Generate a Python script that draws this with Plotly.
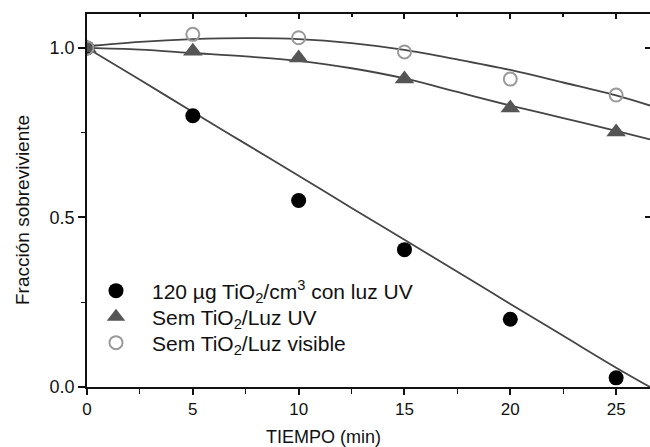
import plotly.graph_objects as go

tiempo = [0, 5, 10, 15, 20, 25]
uv_tio2 = [1.0, 0.80, 0.55, 0.405, 0.20, 0.027]
uv_sin = [1.0, 0.99, 0.97, 0.908, 0.823, 0.752]
vis_sin = [1.0, 1.04, 1.03, 0.988, 0.908, 0.861]

fit_x = [0, 2.5, 5, 7.5, 10, 12.5, 15, 17.5, 20, 22.5, 25, 26.6]
fit_uv_tio2 = [1.0, 0.906, 0.811, 0.717, 0.623, 0.528, 0.434, 0.340, 0.245, 0.151, 0.057, 0.0]
fit_uv_sin = [1.0, 0.995, 0.985, 0.975, 0.962, 0.940, 0.910, 0.870, 0.830, 0.793, 0.755, 0.73]
fit_vis_sin = [1.005, 1.018, 1.026, 1.029, 1.026, 1.014, 0.994, 0.966, 0.935, 0.898, 0.860, 0.83]

names = ["120 \u00b5g TiO<sub>2</sub>/cm<sup>3</sup> con luz UV",
         "Sem TiO<sub>2</sub>/Luz UV",
         "Sem TiO<sub>2</sub>/Luz visible"]

x_ticks = [0, 5, 10, 15, 20, 25]
y_ticks = [0, 0.5, 1.0]

# plot-area geometry (pixels)
L, T, B, W, H = 87, 14, 60, 563, 373

def py(p):
    return (T + H - p) / H

line_col = "#454545"
fig = go.Figure()
for fy in [fit_uv_tio2, fit_uv_sin, fit_vis_sin]:
    fig.add_trace(go.Scatter(x=fit_x, y=fy, mode="lines", line=dict(color=line_col, width=1.8, shape="spline"),
                             showlegend=False, hoverinfo="skip"))

fig.add_trace(go.Scatter(x=tiempo, y=uv_tio2, mode="markers", name=names[0], legend="legend",
                         marker=dict(symbol="circle", size=15, color="#000000")))
fig.add_trace(go.Scatter(x=tiempo, y=uv_sin, mode="markers", name=names[1], legend="legend2",
                         marker=dict(symbol="triangle-up", size=17, color="#555555")))
fig.add_trace(go.Scatter(x=tiempo, y=vis_sin, mode="markers", name=names[2], legend="legend3",
                         marker=dict(symbol="circle-open", size=13, color="#9a9a9a", line=dict(width=2))))
# invisible trace for mirrored axes
fig.add_trace(go.Scatter(x=[0], y=[0], xaxis="x2", yaxis="y2", mode="markers",
                         marker=dict(opacity=0), showlegend=False, hoverinfo="skip"))

ff = "Liberation Sans, Arial, sans-serif"
leg_x = (80 - L) / W

def leg(row_y):
    return dict(x=leg_x, y=py(row_y), xanchor="left", yanchor="middle", bgcolor="rgba(0,0,0,0)",
                font=dict(family=ff, size=21, color="#111"), itemwidth=62)

fig.update_layout(
    width=650, height=447,
    margin=dict(l=L, r=0, t=T, b=B, autoexpand=False),
    paper_bgcolor="white", plot_bgcolor="white",
    font=dict(family=ff, size=18, color="#111111"),
    xaxis=dict(range=[0, 26.6], tickvals=x_ticks, ticks="outside", ticklen=6, tickwidth=1.5,
               tickcolor="#111", showline=True, linecolor="#111", linewidth=1.8, showgrid=False, zeroline=False,
               minor=dict(dtick=2.5, tick0=0, ticks="outside", ticklen=5, tickcolor="#111", tickwidth=1.3),
               tickfont=dict(size=17), automargin=False),
    yaxis=dict(range=[0, 1.1], tickvals=y_ticks, tickformat=".1f", ticks="outside", ticklen=7, tickwidth=1.5,
               tickcolor="#111", showline=True, linecolor="#111", linewidth=1.8, showgrid=False, zeroline=False,
               minor=dict(dtick=0.25, tick0=0, ticks="outside", ticklen=4, tickcolor="#111", tickwidth=1.3),
               tickfont=dict(size=18), automargin=False),
    xaxis2=dict(overlaying="x", side="top", matches="x", range=[0, 26.6], tickvals=x_ticks,
                ticks="inside", ticklen=5, tickcolor="#111", tickwidth=1.5, showticklabels=False, showline=True,
                linecolor="#111", linewidth=1.8, showgrid=False, zeroline=False, automargin=False,
                minor=dict(dtick=2.5, tick0=0, ticks="inside", ticklen=3, tickcolor="#111")),
    yaxis2=dict(overlaying="y", side="right", matches="y", range=[0, 1.1], tickvals=y_ticks,
                ticks="inside", ticklen=5, tickcolor="#111", tickwidth=1.5, showticklabels=False, showline=True,
                linecolor="#111", linewidth=1.8, showgrid=False, zeroline=False, automargin=False),
    legend=leg(291),
    legend2=leg(317),
    legend3=leg(343),
)
fig.add_annotation(text="TIEMPO (min)", xref="paper", x=(323 - L) / W, xanchor="center",
                   yref="paper", y=0, yanchor="middle", yshift=-50,
                   showarrow=False, font=dict(size=18))
fig.add_annotation(text="Fracci\u00f3n sobreviviente", xref="paper", x=(22 - L) / W, xanchor="center",
                   yref="paper", y=py(210), yanchor="middle", textangle=-90, showarrow=False,
                   font=dict(size=19))
fig.write_html("out.html", config={"displayModeBar": False},
               post_script="document.body.style.margin='0px';document.body.style.overflow='hidden';")
